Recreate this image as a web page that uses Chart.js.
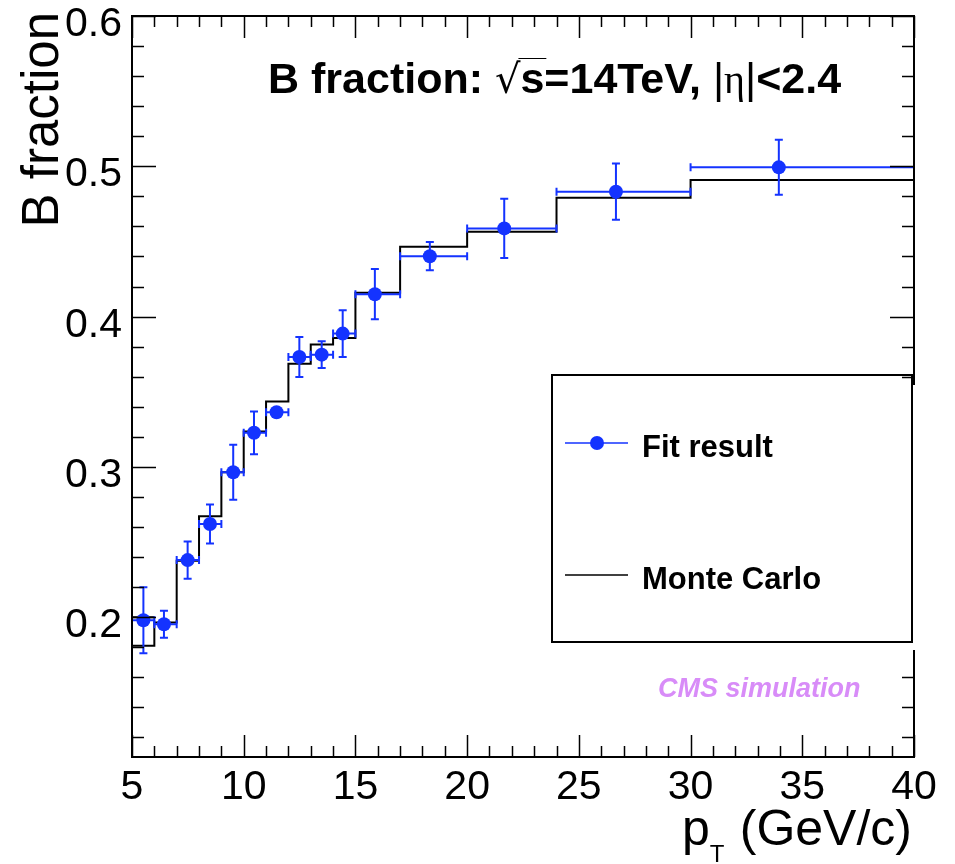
<!DOCTYPE html>
<html>
<head>
<meta charset="utf-8">
<script src="https://cdn.jsdelivr.net/npm/chart.js@4.4.0/dist/chart.umd.min.js"></script>
<style>
  html, body { margin: 0; padding: 0; background: #fff; }
  canvas { display: block; }
</style>
</head>
<body>
<canvas id="bfracChart" width="955" height="864"></canvas>
<script>
// MC histogram: bin edges (GeV/c) and B fraction per bin
const binEdges = [5, 6, 7, 8, 9, 10, 11, 12, 13, 14, 15, 17, 20, 24, 30, 40];
const mcFraction = [0.181, 0.1965, 0.2375, 0.2671, 0.2964, 0.3236, 0.3436, 0.3687, 0.3815, 0.3858, 0.4158, 0.4464, 0.4564, 0.479, 0.4909];
const mcFirstBinUpper = 0.2;

// fit result points (mean pT in bin), value and error
const fitPt = [5.51, 6.43, 7.49, 8.49, 9.53, 10.46, 11.47, 12.49, 13.49, 14.43, 15.87, 18.33, 21.66, 26.66, 33.95];
const fitFraction = [0.198, 0.1953, 0.238, 0.262, 0.2964, 0.3227, 0.3364, 0.3731, 0.3747, 0.3887, 0.4149, 0.4402, 0.4587, 0.4831, 0.4993];
const fitErr = [0.022, 0.009, 0.0124, 0.013, 0.0183, 0.0142, 0.002, 0.0133, 0.0089, 0.0156, 0.0167, 0.0094, 0.0197, 0.0187, 0.0183];

const xTicks = [5, 10, 15, 20, 25, 30, 35, 40];
const yTicks = [0.2, 0.3, 0.4, 0.5, 0.6];

const BLUE = '#1433ff';
const FONT = '"Liberation Sans", Arial, Helvetica, sans-serif';

const mcPoints = binEdges.slice(0, -1).map((e, i) => ({ x: e, y: mcFraction[i] }));
mcPoints.push({ x: binEdges[binEdges.length - 1], y: mcFraction[mcFraction.length - 1] });

const rootPlugin = {
    id: 'rootStyle',
    beforeDatasetDraw(chart, args) {
        if (args.index !== 0) return;
        // error bars under the markers
        const ctx = chart.ctx, xs = chart.scales.x, ys = chart.scales.y;
        ctx.save();
        ctx.strokeStyle = BLUE;
        ctx.lineWidth = 2;
        fitPt.forEach((pt, i) => {
            const px = xs.getPixelForValue(pt);
            const py = ys.getPixelForValue(fitFraction[i]);
            const x0 = xs.getPixelForValue(binEdges[i]);
            const x1 = xs.getPixelForValue(binEdges[i + 1]);
            const yLo = ys.getPixelForValue(fitFraction[i] - fitErr[i]);
            const yHi = ys.getPixelForValue(fitFraction[i] + fitErr[i]);
            ctx.beginPath();
            ctx.moveTo(x0, py); ctx.lineTo(x1, py);
            ctx.moveTo(x0, py - 4); ctx.lineTo(x0, py + 4);
            ctx.moveTo(x1, py - 4); ctx.lineTo(x1, py + 4);
            ctx.moveTo(px, yLo); ctx.lineTo(px, yHi);
            ctx.moveTo(px - 4, yLo); ctx.lineTo(px + 4, yLo);
            ctx.moveTo(px - 4, yHi); ctx.lineTo(px + 4, yHi);
            ctx.stroke();
        });
        ctx.restore();
    },
    afterDraw(chart) {
        const ctx = chart.ctx, xs = chart.scales.x, ys = chart.scales.y;
        const a = chart.chartArea;
        ctx.save();
        ctx.strokeStyle = '#000';
        ctx.lineWidth = 2;
        ctx.strokeRect(a.left, a.top, a.right - a.left, a.bottom - a.top);

        // ticks inside the frame on all four sides
        ctx.lineWidth = 1.5;
        ctx.beginPath();
        for (let v = 5; v <= 40; v += 1) {
            const px = Math.round(xs.getPixelForValue(v)) + 0.5;
            const len = v % 5 === 0 ? 22 : 11;
            ctx.moveTo(px, a.bottom); ctx.lineTo(px, a.bottom - len);
            ctx.moveTo(px, a.top); ctx.lineTo(px, a.top + len);
        }
        for (let k = 6; k <= 30; k++) {
            const v = k * 0.02;
            const py = Math.round(ys.getPixelForValue(v)) + 0.5;
            const len = k % 5 === 0 ? 24 : 12;
            ctx.moveTo(a.left, py); ctx.lineTo(a.left + len, py);
            ctx.moveTo(a.right, py); ctx.lineTo(a.right - len, py);
        }
        ctx.stroke();

        // tick labels
        ctx.fillStyle = '#000';
        ctx.font = '41px ' + FONT;
        ctx.textAlign = 'center';
        ctx.textBaseline = 'alphabetic';
        xTicks.forEach(v => ctx.fillText(String(v), xs.getPixelForValue(v), 799));
        ctx.textAlign = 'right';
        yTicks.forEach(v => ctx.fillText(v.toFixed(1), 122, ys.getPixelForValue(v) + 20));

        // axis titles
        ctx.font = '50px ' + FONT;
        ctx.textAlign = 'right';
        ctx.fillText('(GeV/c)', 912, 845);
        const gw = ctx.measureText('(GeV/c)').width;
        const pX = 912 - gw - 14;
        ctx.fillText('p', pX - 16, 845);
        ctx.font = '24px ' + FONT;
        ctx.textAlign = 'left';
        ctx.fillText('T', pX - 16, 862);

        ctx.save();
        ctx.translate(58, 12);
        ctx.rotate(-Math.PI / 2);
        ctx.font = '51px ' + FONT;
        ctx.textAlign = 'right';
        ctx.fillText('B fraction', 0, 0);
        ctx.restore();

        // header text, mixed bold / symbol segments
        const parts = [
            ['bold 43px ' + FONT, 'B fraction: '],
            ['40px "DejaVu Sans", ' + FONT, '\u221A'],
            ['bold 43px ' + FONT, 's=14TeV, '],
            ['43px ' + FONT, '|'],
            ['40px "Liberation Serif", serif', '\u03B7'],
            ['43px ' + FONT, '|'],
            ['bold 43px ' + FONT, '<2.4']
        ];
        let tx = 268;
        ctx.textAlign = 'left';
        parts.forEach(([f, s], i) => {
            ctx.font = f;
            ctx.fillText(s, tx, 93);
            const w = ctx.measureText(s).width;
            if (i === 2) {
                const sw = ctx.measureText('s').width;
                ctx.lineWidth = 1;
                ctx.beginPath();
                ctx.moveTo(tx - 2, 58.5); ctx.lineTo(tx + sw + 2, 58.5);
                ctx.stroke();
            }
            tx += w;
        });

        // CMS simulation tag
        ctx.fillStyle = '#d88cf8';
        ctx.font = 'italic bold 27px ' + FONT;
        ctx.textAlign = 'left';
        ctx.fillText('CMS simulation', 658, 697);

        // legend box (covers the right axis)
        ctx.fillStyle = '#fff';
        ctx.fillRect(552, 385, 366, 265);
        ctx.strokeStyle = '#000';
        ctx.lineWidth = 2;
        ctx.strokeRect(552, 375, 360, 267);

        ctx.lineWidth = 1.5;
        ctx.strokeStyle = BLUE;
        ctx.beginPath(); ctx.moveTo(565, 443); ctx.lineTo(628, 443); ctx.stroke();
        ctx.fillStyle = BLUE;
        ctx.beginPath(); ctx.arc(597, 443, 7, 0, Math.PI * 2); ctx.fill();
        ctx.strokeStyle = '#000';
        ctx.beginPath(); ctx.moveTo(565, 575); ctx.lineTo(628, 575); ctx.stroke();

        ctx.fillStyle = '#000';
        ctx.font = 'bold 31px ' + FONT;
        ctx.fillText('Fit result', 642, 457);
        ctx.fillText('Monte Carlo', 642, 589);
        ctx.restore();
    }
};

const ctx = document.getElementById('bfracChart').getContext('2d');
const bfracChart = new Chart(ctx, {
    type: 'scatter',
    data: {
        datasets: [
            {
                label: 'Fit result',
                data: fitPt.map((x, i) => ({ x: x, y: fitFraction[i] })),
                pointRadius: 7,
                pointBackgroundColor: BLUE,
                pointBorderWidth: 0,
                showLine: false
            },
            {
                label: 'Monte Carlo',
                data: mcPoints,
                showLine: true,
                stepped: true,
                borderColor: '#000',
                borderWidth: 2,
                pointRadius: 0,
                fill: false
            },
            {
                label: 'MC first bin',
                data: [{ x: binEdges[0], y: mcFirstBinUpper }, { x: binEdges[1], y: mcFirstBinUpper }],
                showLine: true,
                borderColor: '#000',
                borderWidth: 2,
                pointRadius: 0
            }
        ]
    },
    options: {
        responsive: false,
        animation: false,
        layout: { padding: { left: 132, right: 41, top: 16, bottom: 107 } },
        scales: {
            x: { type: 'linear', display: false, min: 5, max: 40 },
            y: { type: 'linear', display: false, min: 0.107, max: 0.6 }
        },
        plugins: {
            legend: { display: false },
            tooltip: { enabled: false }
        }
    },
    plugins: [rootPlugin]
});
</script>
</body>
</html>
